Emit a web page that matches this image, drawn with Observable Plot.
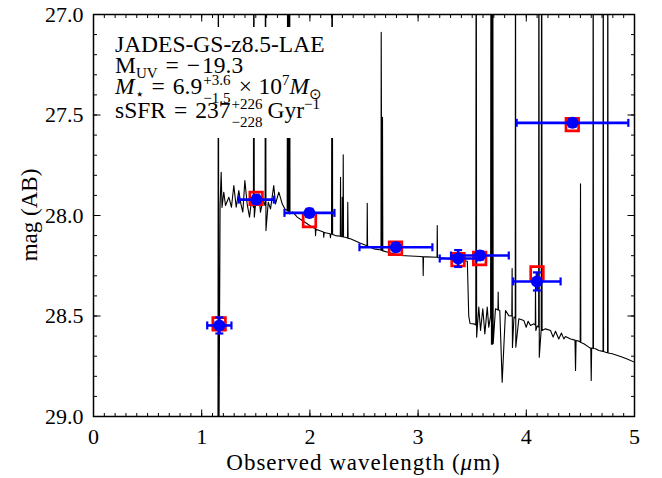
<!DOCTYPE html>
<html>
<head>
<meta charset="utf-8">
<script src="https://cdn.jsdelivr.net/npm/d3@7"></script>
<script src="https://cdn.jsdelivr.net/npm/@observablehq/plot@0.6"></script>
<style>
  html, body { margin: 0; padding: 0; background: white; }
  #wrap { position: relative; width: 662px; height: 478px; font-family: "Liberation Serif", serif; color: black; }
  #wrap svg { position: absolute; left: 0; top: 0; }
  .lbl { position: absolute; font-size: 23px; line-height: 22px; white-space: nowrap; }
  #box { position: absolute; left: 107px; top: 27px; width: 233px; height: 111px; background: white; }
  .ln { position: absolute; left: 8px; font-size: 23.5px; line-height: 14px; white-space: nowrap; }
  .ln sub, .ln sup { font-size: 15px; line-height: 0; }
  .ln sub { vertical-align: -5px; }
  .ln sup { vertical-align: 9px; }
  .rel { margin: 0 8px; }
  .bin { margin: 0 6.5px; }
  .un { margin-right: 2px; }
  .ss { position: relative; display: inline-block; height: 0; vertical-align: baseline; }
  .ss span { position: absolute; left: 1px; font-size: 15px; line-height: 10px; }
  .ss .up { top: -19px; }
  .ss .dn { top: -1px; }
</style>
</head>
<body>
<div id="wrap">
  <div id="box">
    <div class="ln" style="top:9.8px">JADES-GS-z8.5-LAE</div>
    <div class="ln" style="top:30.8px">M<sub>UV</sub><span class="rel">=</span><span class="un">−</span>19.3</div>
    <div class="ln" style="top:52.4px"><i>M</i><sub>⋆</sub><span class="rel">=</span>6.9<span class="ss" style="width:30px"><span class="up">+3.6</span><span class="dn">−1.5</span></span><span class="bin">×</span>10<sup>7</sup><i>M</i><sub>⊙</sub></div>
    <div class="ln" style="top:76.4px">sSFR<span class="rel">=</span>237<span class="ss" style="width:37px"><span class="up">+226</span><span class="dn">−228</span></span>Gyr<sup>−1</sup></div>
  </div>
  <div class="lbl" id="xlab" style="left:93px; width:541px; top:452px; text-align:center; letter-spacing:1px;">Observed wavelength (<i>μ</i>m)</div>
  <div class="lbl" id="ylab" style="left:30px; top:215px; transform: translate(-50%,-50%) rotate(-90deg);">mag (AB)</div>
</div>
<script>
// ---- data ----
const xTicks = [0, 1, 2, 3, 4, 5];
const xTickLabels = ["0", "1", "2", "3", "4", "5"];
const yTicks = [27.0, 27.5, 28.0, 28.5, 29.0];
const yTickLabels = ["27.0", "27.5", "28.0", "28.5", "29.0"];

// observed photometry (blue)
const obsWave = [1.163, 1.505, 1.996, 2.795, 3.370, 3.571, 4.098, 4.427];
const obsMag  = [28.547, 27.921, 27.987, 28.158, 28.214, 28.199, 28.328, 27.539];
const obsWaveErr = [0.112, 0.162, 0.231, 0.337, 0.170, 0.267, 0.219, 0.516];
const obsMagErr  = [0.040, 0.020, 0.020, 0.020, 0.042, 0.020, 0.045, 0.020];

// model photometry (red squares)
const modWave = [1.161, 1.503, 1.996, 2.791, 3.369, 3.569, 4.099, 4.425];
const modMag  = [28.539, 27.915, 28.025, 28.163, 28.220, 28.214, 28.286, 27.548];

// model spectrum (black line)
const specWave = [1.150,1.154,1.158,1.170,1.180,1.188,1.196,
 1.204,1.220,1.251,1.275,1.297,1.319,1.343,1.362,1.380,1.399,1.420,1.442,1.460,1.478,1.482,1.486,
 1.503,1.528,1.543,1.565,1.586,1.590,1.594,1.615,1.636,1.666,1.682,1.713,1.744,1.768,1.790,
 1.796,1.800,1.804,1.808,1.812,1.816,1.842,1.883,1.929,1.975,2.021,2.050,2.052,2.056,2.125,2.128,2.132,
 2.186,2.190,2.194,2.200,2.206,2.210,2.237,2.281,2.283,2.286,2.297,2.299,2.302,2.306,2.308,2.311,2.329,
 2.348,2.350,2.353,2.375,2.468,2.528,2.530,2.533,2.591,2.657,2.659,2.665,2.669,2.671,2.674,2.714,2.837,
 3.022,3.045,3.047,3.050,3.083,3.175,3.177,3.180,3.207,3.392,3.455,3.468,3.480,3.515,3.533,3.537,3.541,
 3.561,3.577,3.598,3.617,3.639,3.653,3.670,3.674,3.678,3.682,3.686,3.690,3.694,3.715,3.738,3.740,3.743,
 3.755,3.777,3.808,3.838,3.866,3.869,3.872,3.886,3.898,3.900,3.903,3.931,3.977,3.999,4.017,4.039,4.070,
 4.083,4.085,4.088,4.100,4.114,4.116,4.120,4.138,4.142,4.146,4.177,4.224,4.248,4.270,4.300,4.325,4.347,
 4.362,4.409,4.450,4.455,4.460,4.485,4.498,4.501,4.504,4.532,4.578,4.596,4.600,4.604,4.616,4.618,4.621,
 4.640,4.670,4.709,4.711,4.714,4.732,4.751,4.753,4.756,4.794,4.871,4.932,5.000];
const specMag = [29.5,26.0,29.3,27.95,27.785,27.96,27.92,
 27.884,27.950,27.909,27.959,27.851,27.959,27.876,27.942,27.983,27.826,27.942,28.008,27.925,27.960,26.0,28.008,
 27.917,27.892,27.983,27.925,27.950,26.0,28.075,27.934,27.967,27.851,27.942,27.884,27.942,27.967,27.975,
 26.0,27.990,26.0,27.990,26.0,27.992,27.983,28.008,28.025,28.041,28.058,28.065,28.100,28.068,28.082,28.108,28.085,
 28.091,28.110,28.092,28.093,26.0,28.095,28.100,28.103,27.810,28.104,28.105,27.909,28.105,28.106,27.698,28.107,28.108,
 28.112,27.934,28.114,28.116,28.138,28.150,27.939,28.152,28.166,28.172,27.088,28.174,28.175,27.511,28.176,28.182,28.199,
 28.204,28.206,28.299,28.206,28.206,28.208,28.050,28.209,28.211,28.222,28.228,28.500,28.537,28.539,28.545,26.0,28.605,
 28.456,28.572,28.464,28.589,28.456,28.556,28.500,26.0,28.640,26.0,28.640,26.0,28.638,28.464,28.470,28.381,28.470,
 28.473,28.829,28.473,28.498,28.500,28.264,28.657,28.505,28.510,26.0,28.655,28.514,28.522,28.556,28.526,28.547,28.539,
 28.545,28.340,28.572,28.550,28.555,26.0,28.705,28.565,26.0,28.572,28.564,28.572,28.605,28.576,28.614,28.585,28.614,
 28.602,28.614,28.620,28.771,28.622,28.625,28.630,27.842,28.632,28.638,28.655,28.660,28.821,28.660,28.660,26.0,28.662,
 28.663,28.672,28.676,26.0,28.677,28.680,28.683,26.0,28.684,28.688,28.701,28.714,28.730];

// ---- tables built from the arrays ----
const spec = specWave.map((w, i) => ({w, m: specMag[i]}));
const obs = obsWave.map((w, i) => ({w, m: obsMag[i], xe: obsWaveErr[i], ye: obsMagErr[i]}));
const mod = modWave.map((w, i) => ({w, m: modMag[i]}));
const xMinor = d3.range(0, 5.0001, 0.1);
const yMinor = d3.range(27, 29.0001, 0.1);

// custom line symbols (length = r)
const seg = (dx, dy, centered) => ({
  draw(ctx, size) {
    const r = Math.sqrt(size / Math.PI);
    if (centered) { ctx.moveTo(-dx * r, -dy * r); ctx.lineTo(dx * r, dy * r); }
    else { ctx.moveTo(0, 0); ctx.lineTo(dx * r, dy * r); }
  }
});
const vCap = seg(0, 1, true), hCap = seg(1, 0, true);
const tUp = seg(0, -1), tDown = seg(0, 1), tRight = seg(1, 0), tLeft = seg(-1, 0);

const tickMarks = (vals, anchor, sym, len) => {
  const horiz = anchor === "bottom" || anchor === "top";
  return Plot.dot(vals, {
    [horiz ? "x" : "y"]: d => d,
    frameAnchor: anchor, symbol: sym, r: len,
    stroke: "black", strokeWidth: 1, fill: "none"
  });
};

const chart = Plot.plot({
  width: 662, height: 478,
  marginTop: 14, marginRight: 28, marginBottom: 62, marginLeft: 93,
  x: {domain: [0, 5]},
  y: {domain: [29, 27]},
  style: {fontFamily: "Liberation Serif, serif", fontSize: "22px", background: "white", color: "black", overflow: "visible"},
  marks: [
    Plot.line(spec, {x: "w", y: "m", stroke: "black", strokeWidth: 1.1, clip: true}),
    Plot.dot(mod, {x: "w", y: "m", symbol: "square", r: 7.1, stroke: "#ff0000", strokeWidth: 2.7, fill: "none"}),
    Plot.ruleY(obs, {y: "m", x1: d => d.w - d.xe, x2: d => d.w + d.xe, stroke: "#0000ff", strokeWidth: 2.6}),
    Plot.ruleX(obs, {x: "w", y1: d => d.m - d.ye, y2: d => d.m + d.ye, stroke: "#0000ff", strokeWidth: 2.6}),
    Plot.dot(obs, {x: d => d.w - d.xe, y: "m", symbol: vCap, r: 4, stroke: "#0000ff", strokeWidth: 2.2, fill: "none"}),
    Plot.dot(obs, {x: d => d.w + d.xe, y: "m", symbol: vCap, r: 4, stroke: "#0000ff", strokeWidth: 2.2, fill: "none"}),
    Plot.dot(obs, {x: "w", y: d => d.m - d.ye, symbol: hCap, r: 4, stroke: "#0000ff", strokeWidth: 2.2, fill: "none"}),
    Plot.dot(obs, {x: "w", y: d => d.m + d.ye, symbol: hCap, r: 4, stroke: "#0000ff", strokeWidth: 2.2, fill: "none"}),
    Plot.dot(obs, {x: "w", y: "m", r: 6, fill: "#0000ff", stroke: "none"}),
    tickMarks(xMinor, "bottom", tUp, 3.5),
    tickMarks(xMinor, "top", tDown, 3.5),
    tickMarks(xTicks, "bottom", tUp, 7),
    tickMarks(xTicks, "top", tDown, 7),
    tickMarks(yMinor, "left", tRight, 3.5),
    tickMarks(yMinor, "right", tLeft, 3.5),
    tickMarks(yTicks, "left", tRight, 7),
    tickMarks(yTicks, "right", tLeft, 7),
    Plot.axisX({ticks: xTicks, tickSize: 0, tickPadding: 12, label: null,
      tickFormat: d => xTickLabels[xTicks.indexOf(d)], fontSize: 22}),
    Plot.axisY({ticks: yTicks, tickSize: 0, tickPadding: 10, label: null,
      tickFormat: d => yTickLabels[yTicks.indexOf(d)], fontSize: 22}),
    Plot.frame({stroke: "black", strokeWidth: 1.5})
  ]
});
document.getElementById("wrap").insertBefore(chart, document.getElementById("box"));
</script>
</body>
</html>
